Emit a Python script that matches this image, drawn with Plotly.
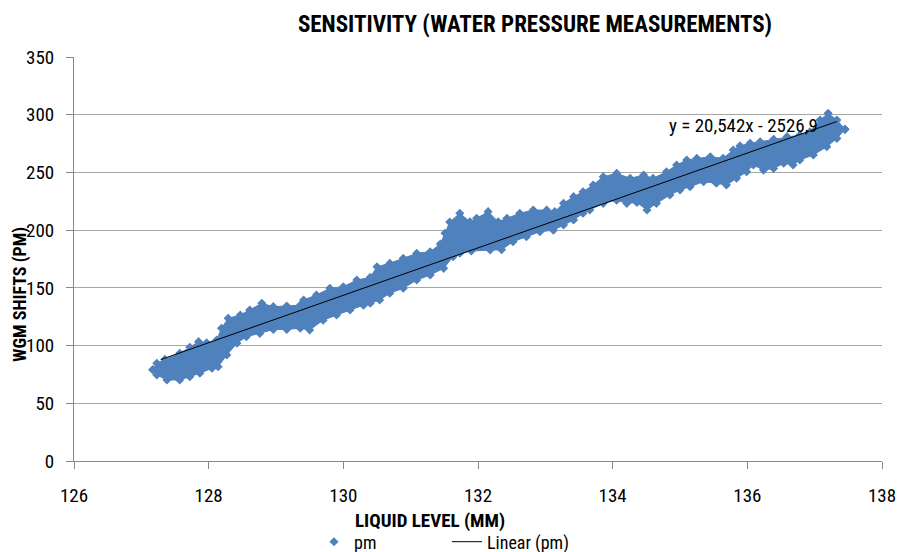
import plotly.graph_objects as go

# Upper edge of the "pm" band (liquid level mm, WGM shift pm)
upper_x = [127.17, 127.23, 127.35, 127.57, 127.72, 127.85, 127.97, 128.12, 128.19, 128.29,
           128.47, 128.61, 128.79, 128.96, 129.16, 129.36, 129.41, 129.6, 129.8, 130.0,
           130.2, 130.4, 130.5, 130.69, 130.89, 131.09, 131.29, 131.44, 131.51, 131.58,
           131.73, 131.88, 131.98, 132.15, 132.3, 132.43, 132.62, 132.82, 133.02, 133.14,
           133.27, 133.42, 133.56, 133.71, 133.86, 134.06, 134.26, 134.46, 134.6, 134.8,
           134.95, 135.1, 135.25, 135.45, 135.64, 135.79, 135.89, 136.04, 136.19, 136.39,
           136.59, 136.78, 136.93, 137.08, 137.2, 137.33, 137.45]
upper_y = [79, 84.6, 88, 93.3, 98.5, 103.4, 102.5, 104.8, 115, 123.6,
           126.5, 130.8, 136.6, 133.7, 134.3, 135, 139.5, 143.8, 149.6, 151,
           156.8, 159.1, 168.3, 171.3, 175.6, 179.9, 181.3, 188, 197.3, 207,
           214.6, 207.3, 210.2, 216, 207.3, 210.2, 214.6, 217.4, 217.4, 216,
           223.2, 229, 233.3, 239.1, 246.3, 249.2, 244.9, 247.8, 244.9, 250.6,
           256.4, 260.8, 262.2, 263.6, 262.2, 269.4, 273, 275.2, 276.6, 278.7,
           281, 282.4, 285.3, 295.4, 301.2, 295.4, 287.3]

# Lower edge of the "pm" band
lower_x = [127.17, 127.23, 127.38, 127.57, 127.72, 127.87, 128.05, 128.14, 128.27, 128.42,
           128.56, 128.76, 128.96, 129.16, 129.36, 129.5, 129.7, 129.9, 130.1, 130.3,
           130.4, 130.54, 130.69, 130.89, 131.09, 131.29, 131.49, 131.63, 131.73, 131.9,
           132.18, 132.35, 132.52, 132.72, 132.92, 133.12, 133.27, 133.42, 133.56, 133.66,
           133.86, 134.06, 134.21, 134.36, 134.51, 134.65, 134.85, 135.0, 135.15, 135.35,
           135.54, 135.69, 135.84, 135.99, 136.09, 136.24, 136.39, 136.54, 136.68, 136.78,
           136.98, 137.18, 137.33, 137.45]
lower_y = [79, 74.5, 70.2, 70.2, 73, 76, 80.3, 81.7, 91.8, 102,
           107.7, 110.6, 114, 114, 115, 113.5, 122, 126.5, 130.8, 135,
           136.6, 139.5, 145.3, 149.6, 156.8, 161.1, 166.9, 177, 180, 182,
           182.8, 183, 190, 194.3, 198.6, 200, 204.4, 208.8, 214.6, 217.4,
           223.2, 226, 223.2, 224, 217.4, 223.2, 230.4, 234.8, 237.6, 242,
           240.6, 239.1, 244.9, 250.6, 256.4, 252, 253.5, 257.9, 256.4, 260.8,
           265.1, 272.3, 279.5, 287.3]

# Linear trend line (as shown on the chart)
trend_slope = 20.542
trend_intercept = -2526.9
trend_x = [127.29, 137.33]
trend_label = "y = 20,542x - 2526,9"

x_ticks = [126, 128, 130, 132, 134, 136, 138]
y_ticks = [0, 50, 100, 150, 200, 250, 300, 350]

BLUE = "#4F81BD"
FONT = "Liberation Sans Narrow, Roboto Condensed, DejaVu Sans Condensed, sans-serif"

fig = go.Figure()

# filled band of pm measurements
fig.add_trace(go.Scatter(
    x=upper_x + lower_x[::-1], y=upper_y + lower_y[::-1],
    mode="lines", fill="toself", fillcolor=BLUE,
    line=dict(color=BLUE, width=1), showlegend=False, hoverinfo="skip"))

# pm points (edges of band)
fig.add_trace(go.Scatter(
    x=upper_x + lower_x, y=upper_y + lower_y, mode="markers", name="pm",
    marker=dict(symbol="diamond", size=7, color=BLUE, line=dict(width=0))))

trend_y = [trend_slope * v + trend_intercept for v in trend_x]
fig.add_trace(go.Scatter(
    x=trend_x, y=trend_y, mode="lines", name="Linear (pm)",
    line=dict(color="black", width=1)))

fig.add_annotation(x=135.94, y=291, text=trend_label, showarrow=False,
                   font=dict(family=FONT, size=19, color="black"),
                   xanchor="center", yanchor="middle")

fig.add_annotation(xref="paper", yref="paper", x=(430 - 74) / 808, y=(461 - 520) / 404,
                   text="<b>LIQUID LEVEL (MM)</b>", showarrow=False,
                   font=dict(family=FONT, size=19, color="black"),
                   xanchor="center", yanchor="middle")
fig.add_annotation(xref="paper", yref="paper", x=(20 - 74) / 808, y=(461 - 295) / 404,
                   text="<b>WGM SHIFTS (PM)</b>", showarrow=False, textangle=-90,
                   font=dict(family=FONT, size=18, color="black"),
                   xanchor="center", yanchor="middle")

fig.update_layout(
    width=903, height=552,
    margin=dict(l=74, r=21, t=57, b=91, autoexpand=False),
    paper_bgcolor="white", plot_bgcolor="white",
    font=dict(family=FONT, size=19, color="black"),
    title=dict(text="<b>SENSITIVITY (WATER PRESSURE MEASUREMENTS)</b>",
               x=535 / 903, xref="container", xanchor="center",
               y=1 - 24 / 552, yref="container", yanchor="middle",
               font=dict(family=FONT, size=23, color="black")),
    xaxis=dict(range=[126, 138], tickvals=x_ticks, ticktext=[str(v) for v in x_ticks],
               showgrid=False, zeroline=False, showline=True, linecolor="#888888",
               linewidth=1, ticks="outside", ticklen=7, tickcolor="#888888",
               ticklabelstandoff=10, tickfont=dict(family=FONT, size=19)),
    yaxis=dict(range=[0, 350], tickvals=y_ticks, ticktext=[str(v) for v in y_ticks],
               showgrid=True, gridcolor="#A6A6A6", gridwidth=1, zeroline=False,
               showline=True, linecolor="#888888", linewidth=1, ticks="outside",
               ticklen=7, tickcolor="#888888", ticklabelstandoff=8,
               tickfont=dict(family=FONT, size=19)),
    legend=dict(orientation="h", x=(314 - 74) / 808, xanchor="left",
                y=1 - 542 / 552, yref="container", yanchor="middle",
                font=dict(family=FONT, size=18, color="black"),
                bgcolor="rgba(0,0,0,0)", entrywidth=88, entrywidthmode="pixels"),
)

fig.write_html("out.html")
